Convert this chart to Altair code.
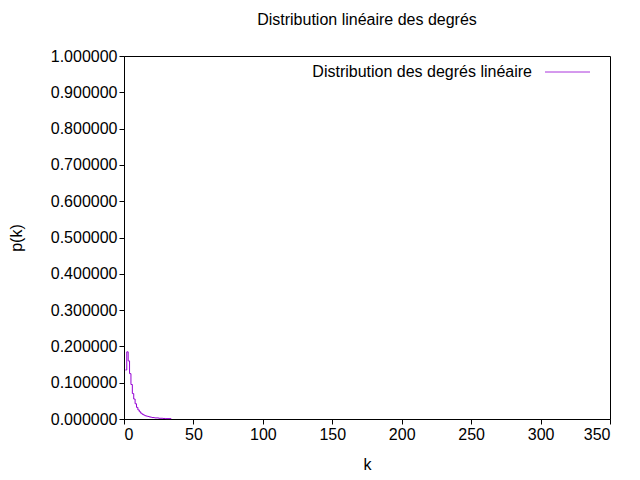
import altair as alt
import pandas as pd

k = [1, 2, 3, 4, 5, 6, 7, 8, 9, 10, 11, 12, 13, 14, 15, 16, 17, 18, 19, 20, 22, 25, 28, 30, 34]
pk = [0.135, 0.185, 0.16, 0.125, 0.095, 0.07, 0.055, 0.042, 0.032, 0.025, 0.02, 0.016,
      0.013, 0.011, 0.009, 0.008, 0.007, 0.006, 0.005, 0.004, 0.003, 0.002, 0.0015, 0.001, 0.0008]
x_ticks = [0, 50, 100, 150, 200, 250, 300, 350]
y_ticks = [i / 10 for i in range(11)]

df = pd.DataFrame({"k": k, "p": pk})
one = pd.DataFrame({"a": [0]})
font = "Liberation Sans"
purple = "#9400D3"

line = alt.Chart(df).mark_line(color=purple, strokeWidth=1, interpolate="step-after").encode(
    x=alt.X("k:Q", scale=alt.Scale(domain=[0, 350], nice=False),
            axis=alt.Axis(values=x_ticks, title="k", titlePadding=14, grid=False)),
    y=alt.Y("p:Q", scale=alt.Scale(domain=[0, 1], nice=False),
            axis=alt.Axis(values=y_ticks, format=".6f", title="p(k)", titlePadding=26, grid=False)),
)

legend_text = alt.Chart(one).mark_text(
    align="right", baseline="middle", font=font, fontSize=16, color="black"
).encode(x=alt.value(408), y=alt.value(16), text=alt.value("Distribution des degrés linéaire"))

legend_line = alt.Chart(one).mark_rule(color=purple, strokeWidth=0.8).encode(
    x=alt.value(421), x2=alt.value(466), y=alt.value(16)
)

chart = (line + legend_text + legend_line).properties(
    width=486, height=363,
    title=alt.TitleParams("Distribution linéaire des degrés", font=font, fontSize=16,
                          fontWeight="normal", offset=20),
    autosize=alt.AutoSizeParams(type="none"),
    padding={"left": 116, "top": 48, "right": 22, "bottom": 53},
).configure_view(stroke="black", strokeWidth=1).configure_axis(
    labelFont=font, titleFont=font, labelFontSize=16, titleFontSize=16,
    titleFontWeight="normal", domainColor="black", tickColor="black",
    labelColor="black", titleColor="black", tickSize=5
)

chart.save("out.html", embed_options={"renderer": "svg", "actions": False})
